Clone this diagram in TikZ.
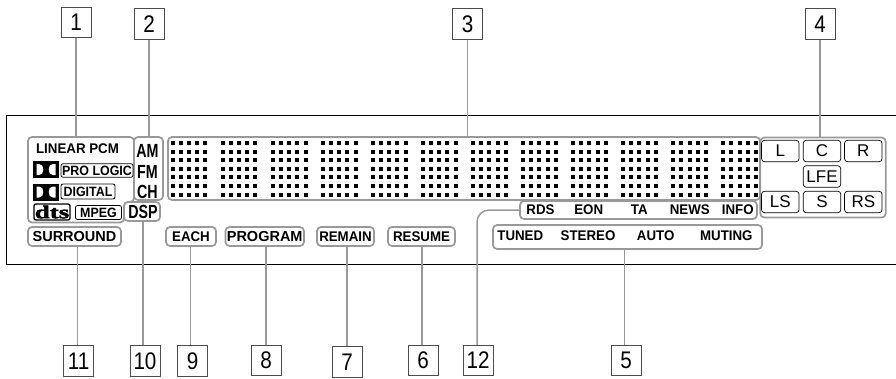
\documentclass[tikz,border=0pt]{standalone}
\usepackage{fontspec}
\setmainfont{Liberation Sans}
\newfontfamily\numfam[FakeStretch=0.86]{Liberation Sans}
\newfontfamily\lblfam[FakeStretch=0.95]{Liberation Sans}
\newfontfamily\widefam{Liberation Sans}
\newfontfamily\tagfam[FakeStretch=0.92]{Liberation Sans}
\newfontfamily\tallfam[FakeStretch=0.75]{Liberation Sans}
\newfontfamily\dtsfam[FakeStretch=1.5,FakeBold=2.5]{Liberation Serif}
\usetikzlibrary{calc}
\definecolor{leadgray}{gray}{0.6}
\tikzset{leader/.style={draw=leadgray, line width=1.5pt},
  panel/.style={draw=leadgray, line width=1.7pt, rounded corners=4pt, inner sep=0pt, outer sep=0pt},
  numbox/.style={draw=black!70, line width=.8pt, fill=white, minimum width=30pt, minimum height=30.5pt, inner sep=0pt, font=\numfam\fontsize{24}{24}\selectfont},
  lbl/.style={inner sep=0pt, font=\lblfam\bfseries\fontsize{14}{14}\selectfont},
  lblwide/.style={inner sep=0pt, font=\widefam\bfseries\fontsize{14.5}{14.5}\selectfont},
  tall/.style={inner sep=0pt, font=\tallfam\bfseries\fontsize{19}{19}\selectfont},
  spk/.style={draw=black, line width=.7pt, rounded corners=3pt, minimum width=37.5pt, minimum height=21.5pt, inner sep=0pt, font=\fontsize{17}{17}\selectfont},
  tag/.style={draw=black, line width=.8pt, rounded corners=2pt, inner sep=0pt, font=\tagfam\bfseries\fontsize{13.5}{13.5}\selectfont},
  dolby/.pic={
    \fill[black] (-13,-8.5) rectangle (13,8.5);
    \foreach \sx in {1,-1}
      \fill[white,xscale=\sx] (-9.5,-5.5) -- (-7,-5.5) .. controls (-4,-5.5) and (-2.7,-3) .. (-2.7,0)
        .. controls (-2.7,3) and (-4,5.5) .. (-7,5.5) -- (-9.5,5.5) -- cycle;
  }}

\begin{document}
\begin{tikzpicture}[x=1pt,y=-1pt]
  \useasboundingbox (0,0) rectangle (896,378);
  % front panel outline
  \draw[black, line width=.8pt] (896,115.5) -- (6.5,115.5) -- (6.5,264) -- (896,264);
  % left block
  \draw[leader, line width=1.7pt, rounded corners=4pt] (76,137) -| (134,202) -| (124,222.5) -| (28,137) -- cycle;
  \coordinate (lpcm) at (76,137);
  \node[panel, minimum width=29pt, minimum height=63pt] (band) at (148.5,168.5) {};
  \node[panel, fill=white, minimum width=36pt, minimum height=19pt] (dsp) at (142,211.5) {};
  \node[lbl] (linear) at (77.5,149) {LINEAR PCM};
  \pic at (46,169.5) {dolby};
  \pic at (46,192) {dolby};
  \node[tag, minimum width=72pt, minimum height=13.5pt] (prologic) at (97,170.5) {PRO LOGIC};
  \node[tag, minimum width=54pt, minimum height=15pt] (digital) at (88,191.5) {DIGITAL};
  \node[draw=black, line width=1.4pt, rounded corners=2pt, minimum width=36pt, minimum height=16pt, inner sep=0pt, font=\dtsfam\bfseries\fontsize{18}{18}\selectfont] (dts) at (52,212) {dts};
  \node[tag, minimum width=46pt, minimum height=14pt] (mpeg) at (98.5,212.5) {MPEG};
  \node[tall] (am) at (147.5,150.5) {AM};
  \node[tall] (fm) at (147.5,171.5) {FM};
  \node[tall] (ch) at (147.5,191.5) {CH};
  \node[tall] (dsptxt) at (143,211.5) {DSP};
  % dot matrix
  \foreach \g in {0,...,11}
    \foreach \c in {0,...,4}
      \foreach \r in {0,...,6} {
        \pgfmathsetmacro{\dotx}{round(170.6+50.05*\g+8.2*\c)}
        \pgfmathsetmacro{\doty}{round(141+8.6*\r)}
        \fill[black] (\dotx,\doty) rectangle ++(4,4);
      }
  \node[panel, minimum width=592pt, minimum height=63pt] (matrix) at (464,168.5) {};
  % speaker block
  \node[panel, minimum width=125.5pt, minimum height=80pt] (spkbox) at (823,177.5) {};
  \node[spk] (spkl) at (780.3,151) {L};
  \node[spk] (spkc) at (822,151) {C};
  \node[spk] (spkr) at (863.3,151) {R};
  \node[spk] (spklfe) at (822,176.5) {LFE};
  \node[spk] (spkls) at (780.3,202) {LS};
  \node[spk] (spks) at (822,202) {S};
  \node[spk] (spkrs) at (863.3,202) {RS};
  % indicator rows
  \node[panel, minimum width=237pt, minimum height=18pt] (rds) at (638.5,210) {};
  \node[lbl] (rdstxt) at (540.5,209.5) {RDS};
  \node[lbl] (eon) at (588.7,209.5) {EON};
  \node[lbl] (ta) at (639.3,209.5) {TA};
  \node[lbl] (news) at (689.8,209.5) {NEWS};
  \node[lbl] (info) at (737.7,209.5) {INFO};
  \node[panel, minimum width=269pt, minimum height=24pt] (tunerow) at (627.5,237) {};
  \node[lbl] (tuned) at (520.3,236) {TUNED};
  \node[lbl] (stereo) at (588,236) {STEREO};
  \node[lbl] (auto) at (655.7,236) {AUTO};
  \node[lbl] (muting) at (726.3,236) {MUTING};
  \node[panel, minimum width=93pt, minimum height=19pt, lblwide] (surround) at (74.5,236.5) {SURROUND};
  \node[panel, minimum width=50pt, minimum height=19pt, lbl] (each) at (191,236.5) {EACH};
  \node[panel, minimum width=78.5pt, minimum height=19pt, lblwide] (program) at (264.7,236.5) {PROGRAM};
  \node[panel, minimum width=57pt, minimum height=19pt, lbl] (remain) at (345.5,236.5) {REMAIN};
  \node[panel, minimum width=67pt, minimum height=19pt, lbl] (resume) at (421.5,236.5) {RESUME};
  % number boxes
  \foreach \n/\x/\y in {1/76/22.5,2/149/24,3/467.5/24,4/820/24,
      5/626/360.5,6/423/360.5,7/347/362,8/266/360.5,9/192.5/361,10/145/361,11/78.7/361,12/478/360.5}
    \node[numbox] (n\n) at (\x,\y) {\n};
  % leaders, top side
  \foreach \a/\b in {n1/lpcm,n2/band.north,n3/matrix.north,n4/spkbox.north}
    \draw[leader] (\a.south) -- (\a.south |- \b);
  % leaders, bottom side
  \foreach \a/\b/\s in {n5/tunerow/-1.7,n6/resume/-1,n7/remain/0,n8/program/0,n9/each/-1.8,n10/dsp/-2,n11/surround/-1.4}
    \draw[leader] ([xshift=\s pt]\a.north) -- ([xshift=\s pt]\a.north |- \b.south);
  \draw[leader, rounded corners=12pt] ([xshift=-1pt]n12.north) -- ([xshift=-1pt]n12.north |- rds.west) -- (rds.west);
\end{tikzpicture}
\end{document}
